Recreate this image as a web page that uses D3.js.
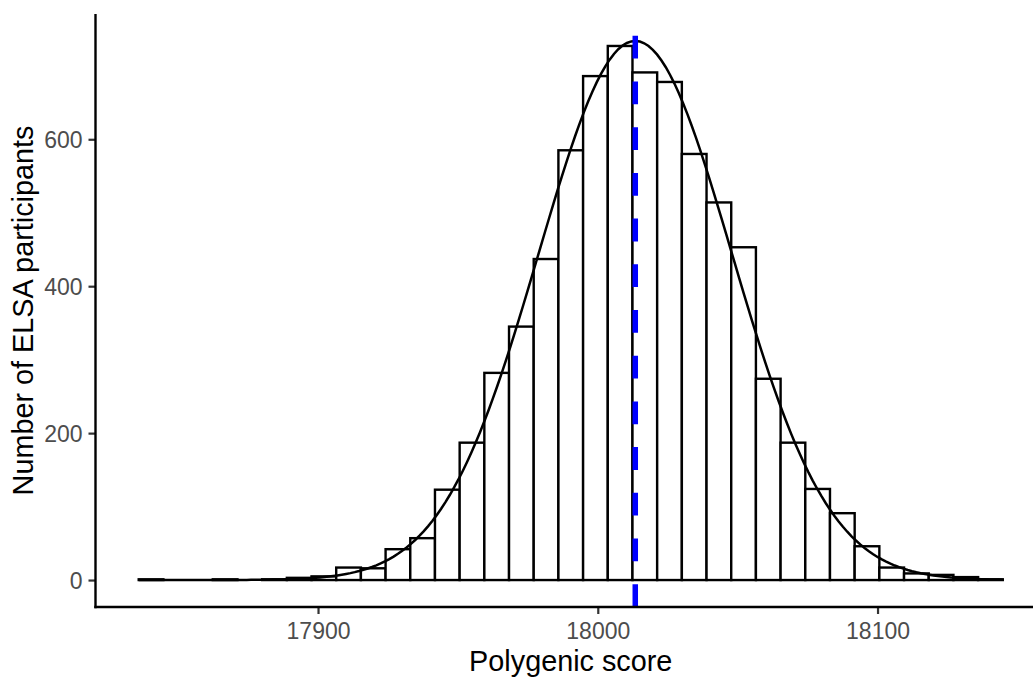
<!DOCTYPE html>
<html>
<head>
<meta charset="utf-8">
<script src="https://cdn.jsdelivr.net/npm/d3@7"></script>
<style>
  body { margin: 0; background: #fff; }
  text { font-family: "Liberation Sans", Arial, sans-serif; }
</style>
</head>
<body>
<div id="chart"></div>
<script>
// histogram bins (left edge of first bin, bin width) and counts
const binStart = 17835.9
const binWidth = 8.825
const counts = [1, 0, 0, 1, 0, 1, 3, 5, 17, 16,
                42, 57, 123, 187, 282, 345, 437, 585, 686, 727,
                691, 678, 580, 514, 453, 274, 187, 124, 91, 46,
                17, 9, 7, 4, 1]

// normal curve parameters and the mean marker
const scoreMean = 18013.4
const scoreSd = 34.5

const xTicks = [17900, 18000, 18100]
const yTicks = [0, 200, 400, 600]

const xTitle = 'Polygenic score'
const yTitle = 'Number of ELSA participants'

const width = 1033, height = 678
const panel = {left: 95.5, right: 1046, top: 14, bottom: 607}

let svg = d3.select('#chart').append('svg')
    .attr('width', width)
    .attr('height', height)

let bins = counts.map(function(c, i){
    return {x0: binStart + i * binWidth, x1: binStart + (i + 1) * binWidth, n: c}
})

let total = d3.sum(counts)

function dnorm(x){
    let z = (x - scoreMean) / scoreSd
    return Math.exp(-0.5 * z * z) / (scoreSd * Math.sqrt(2 * Math.PI))
}

let xMin = bins[0].x0, xMax = bins[bins.length - 1].x1
let xPad = (xMax - xMin) * 0.05

let xScale = d3.scaleLinear()
    .domain([xMin - xPad, xMax + xPad])
    .range([panel.left, panel.right])

let curveData = d3.range(0, 201).map(function(i){
    let x = xMin + (xMax - xMin) * i / 200
    return {x: x, y: total * binWidth * dnorm(x)}
})

let yMax = Math.max(d3.max(counts), d3.max(curveData, function(d){ return d.y }))
let yPad = yMax * 0.05

let yScale = d3.scaleLinear()
    .domain([-yPad, yMax + yPad])
    .range([panel.bottom, panel.top])

// bars
svg.append('g')
    .selectAll('rect')
    .data(bins)
    .enter()
    .append('rect')
    .attr('x', function(d){ return xScale(d.x0) })
    .attr('y', function(d){ return yScale(d.n) })
    .attr('width', function(d){ return xScale(d.x1) - xScale(d.x0) })
    .attr('height', function(d){ return yScale(0) - yScale(d.n) })
    .attr('fill', 'white')
    .attr('stroke', 'black')
    .attr('stroke-width', 2.4)

// normal curve
svg.append('path')
    .datum(curveData)
    .attr('fill', 'none')
    .attr('stroke', 'black')
    .attr('stroke-width', 2.5)
    .attr('d', d3.line()
        .x(function(d){ return xScale(d.x) })
        .y(function(d){ return yScale(d.y) }))

// mean line, dashes start from the bottom like ggplot
svg.append('line')
    .attr('x1', xScale(scoreMean))
    .attr('x2', xScale(scoreMean))
    .attr('y1', panel.bottom)
    .attr('y2', panel.top)
    .attr('stroke', '#0000ff')
    .attr('stroke-width', 5.5)
    .attr('stroke-dasharray', '22.8 22.9')

// x axis
let xAxis = svg.append('g')
    .attr('transform', 'translate(0,' + panel.bottom + ')')
    .call(d3.axisBottom(xScale).tickValues(xTicks).tickSize(7).tickPadding(9).tickFormat(d3.format('d')))

// y axis
let yAxis = svg.append('g')
    .attr('transform', 'translate(' + panel.left + ',0)')
    .call(d3.axisLeft(yScale).tickValues(yTicks).tickSize(7).tickPadding(6))

svg.selectAll('.domain').remove()

xAxis.append('line')
    .attr('x1', panel.left - 1.2)
    .attr('x2', panel.right)
    .attr('stroke', 'black')
    .attr('stroke-width', 2.4)

yAxis.append('line')
    .attr('y1', panel.top)
    .attr('y2', panel.bottom + 1.2)
    .attr('stroke', 'black')
    .attr('stroke-width', 2.4)

svg.selectAll('.tick line')
    .attr('stroke', '#333333')
    .attr('stroke-width', 2.2)

svg.selectAll('.tick text')
    .attr('fill', '#4d4d4d')
    .attr('font-size', 23)
    .attr('font-family', '"Liberation Sans", Arial, sans-serif')

xAxis.selectAll('.tick text').attr('dy', '0.71em')
yAxis.selectAll('.tick text').attr('dy', '0.36em')

// titles
svg.append('text')
    .attr('x', (panel.left + panel.right) / 2)
    .attr('y', 671)
    .attr('text-anchor', 'middle')
    .attr('font-size', 28.8)
    .attr('fill', 'black')
    .text(xTitle)

svg.append('text')
    .attr('transform', 'translate(33,' + (panel.top + panel.bottom) / 2 + ') rotate(-90)')
    .attr('text-anchor', 'middle')
    .attr('font-size', 28.8)
    .attr('fill', 'black')
    .text(yTitle)
</script>
</body>
</html>
